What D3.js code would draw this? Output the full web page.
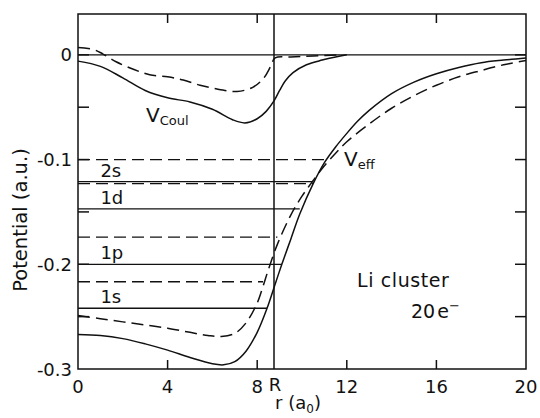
<!DOCTYPE html>
<html>
<head>
<meta charset="utf-8">
<script src="https://cdn.jsdelivr.net/npm/d3@7"></script>
<style>
  html, body { margin: 0; padding: 0; background: #fff; }
  svg { display: block; }
  text { font-family: "DejaVu Sans", sans-serif; fill: #111; }
</style>
</head>
<body>
<svg id="chart" width="540" height="418"></svg>
<script>
// ---- data ----
const rVeffSolid = [0, 1, 2, 3, 4, 5, 6, 6.5, 7, 7.5, 8, 8.44, 8.8, 9.1, 9.5, 9.9, 10.5, 11, 11.5, 12, 12.5, 13, 14, 15, 16, 17, 18, 19, 20];
const vVeffSolid = [-0.267, -0.268, -0.271, -0.276, -0.282, -0.289, -0.295, -0.296, -0.293, -0.283, -0.265, -0.242, -0.219, -0.2, -0.176, -0.152, -0.123, -0.103, -0.088, -0.075, -0.063, -0.053, -0.037, -0.026, -0.018, -0.012, -0.0075, -0.005, -0.003];

const rVeffDashed = [0, 1, 2, 3, 4, 5, 5.8, 6.4, 7, 7.5, 8, 8.26, 8.5, 8.9, 9.5, 10, 10.5, 11, 11.5, 12, 13, 14, 15, 16, 17, 18, 19, 20];
const vVeffDashed = [-0.249, -0.252, -0.255, -0.258, -0.261, -0.265, -0.268, -0.269, -0.266, -0.256, -0.237, -0.221, -0.205, -0.181, -0.153, -0.135, -0.12, -0.106, -0.094, -0.083, -0.066, -0.051, -0.039, -0.029, -0.021, -0.015, -0.0095, -0.0055];

const rCoulSolid = [0, 1, 2, 3, 4, 5, 6, 6.9, 7.45, 8, 8.4, 8.75, 9.0, 9.25, 9.6, 10.2, 10.9, 11.5, 12];
const vCoulSolid = [-0.006, -0.011, -0.022, -0.034, -0.041, -0.045, -0.052, -0.062, -0.065, -0.061, -0.054, -0.044, -0.034, -0.025, -0.017, -0.0095, -0.005, -0.002, 0];

const rCoulDashed = [0, 0.7, 1.1, 1.7, 2.5, 3.2, 4, 4.7, 5.45, 6.3, 7.1, 7.8, 8.3, 8.6, 8.8, 9.5, 10.5, 11.8];
const vCoulDashed = [0.007, 0.005, 0.001, -0.0066, -0.014, -0.019, -0.021, -0.024, -0.029, -0.033, -0.035, -0.031, -0.022, -0.011, -0.003, -0.002, -0.001, 0];

const levelSolid = [-0.121, -0.147, -0.2, -0.242];
const levelSolidEnd = [10.5, 9.9, 9.1, 8.44];
const levelSolidNames = ["2s", "1d", "1p", "1s"];
const levelDashed = [-0.1, -0.123, -0.174, -0.2167];
const levelDashedEnd = [11.0, 10.5, 8.9, 8.26];

const clusterRadius = 8.75;
const xTickValues = [0, 4, 8, 12, 16, 20];
const xTickLabels = ["0", "4", "8", "12", "16", "20"];
const yTickValues = [0, -0.1, -0.2, -0.3];
const yTickLabels = ["0", "-0.1", "-0.2", "-0.3"];
const yMinorTicks = [0.0, -0.05, -0.1, -0.15, -0.2, -0.25];

// ---- layout ----
const svg = d3.select("#chart");
const L = 78, R = 526, T = 14, B = 369;
const x = d3.scaleLinear().domain([0, 20]).range([L, R]);
const y = d3.scaleLinear().domain([-0.3, 0.039]).range([B, T]);
const ink = "#111";
const sw = 1.5;
const dash = "12,6";

const g = svg.append("g");

// zero line
g.append("line").attr("x1", x(0)).attr("x2", x(20)).attr("y1", y(0)).attr("y2", y(0))
  .attr("stroke", ink).attr("stroke-width", 1.2);

// R line
g.append("line").attr("x1", x(clusterRadius)).attr("x2", x(clusterRadius)).attr("y1", T).attr("y2", B)
  .attr("stroke", ink).attr("stroke-width", sw);

// level lines
levelSolid.forEach((v, i) => {
  g.append("line").attr("x1", x(0)).attr("x2", x(levelSolidEnd[i])).attr("y1", y(v)).attr("y2", y(v))
    .attr("stroke", ink).attr("stroke-width", 1.3);
  g.append("text").attr("x", x(1.0)).attr("y", y(v) - 5).attr("font-size", 18).text(levelSolidNames[i]);
});
levelDashed.forEach((v, i) => {
  g.append("line").attr("x1", x(0)).attr("x2", x(levelDashedEnd[i])).attr("y1", y(v)).attr("y2", y(v))
    .attr("stroke", ink).attr("stroke-width", 1.3).attr("stroke-dasharray", dash);
});

// curves
const line = d3.line().x(d => x(d[0])).y(d => y(d[1])).curve(d3.curveCatmullRom.alpha(0.5));
function drawCurve(rs, vs, dashed) {
  g.append("path").datum(rs.map((r, i) => [r, vs[i]]))
    .attr("d", line).attr("fill", "none").attr("stroke", ink).attr("stroke-width", sw)
    .attr("stroke-dasharray", dashed ? dash : null);
}
drawCurve(rVeffSolid, vVeffSolid, false);
drawCurve(rVeffDashed, vVeffDashed, true);
drawCurve(rCoulSolid, vCoulSolid, false);
drawCurve(rCoulDashed, vCoulDashed, true);

// frame
g.append("rect").attr("x", L).attr("y", T).attr("width", R - L).attr("height", B - T)
  .attr("fill", "none").attr("stroke", ink).attr("stroke-width", sw);

// ticks (inward)
const tl = 9;
xTickValues.slice(1, -1).forEach(v => {
  g.append("line").attr("x1", x(v)).attr("x2", x(v)).attr("y1", B).attr("y2", B - tl).attr("stroke", ink).attr("stroke-width", sw);
  g.append("line").attr("x1", x(v)).attr("x2", x(v)).attr("y1", T).attr("y2", T + tl).attr("stroke", ink).attr("stroke-width", sw);
});
yMinorTicks.forEach(v => {
  g.append("line").attr("x1", L).attr("x2", L + 11).attr("y1", y(v)).attr("y2", y(v)).attr("stroke", ink).attr("stroke-width", sw);
  g.append("line").attr("x1", R).attr("x2", R - 11).attr("y1", y(v)).attr("y2", y(v)).attr("stroke", ink).attr("stroke-width", sw);
});

// tick labels
xTickValues.forEach((v, i) => {
  g.append("text").attr("x", x(v)).attr("y", 393).attr("text-anchor", "middle").attr("font-size", 18).text(xTickLabels[i]);
});
g.append("text").attr("x", x(clusterRadius) + 1).attr("y", 391).attr("text-anchor", "middle").attr("font-size", 18).text("R");
yTickValues.forEach((v, i) => {
  g.append("text").attr("x", 72).attr("y", y(v) + 6.5).attr("text-anchor", "end").attr("font-size", 18).text(yTickLabels[i]);
});

// axis titles
const xt = g.append("text").attr("x", 298).attr("y", 409).attr("text-anchor", "middle").attr("font-size", 18);
xt.append("tspan").text("r (a");
xt.append("tspan").attr("font-size", 12).attr("dy", 4).text("0");
xt.append("tspan").attr("dy", -4).text(")");

g.append("text").attr("transform", "translate(27,220) rotate(-90)").attr("text-anchor", "middle")
  .attr("font-size", 19.5).text("Potential (a.u.)");

// annotations
const vc = g.append("text").attr("x", 146).attr("y", 122).attr("font-size", 20);
vc.append("tspan").text("V");
vc.append("tspan").attr("font-size", 13).attr("dy", 3).text("Coul");

const ve = g.append("text").attr("x", 344).attr("y", 166).attr("font-size", 20);
ve.append("tspan").text("V");
ve.append("tspan").attr("font-size", 13).attr("dy", 3).text("eff");

g.append("text").attr("x", 357).attr("y", 287).attr("font-size", 19).attr("letter-spacing", 0.6).text("Li cluster");
const ne = g.append("text").attr("x", 411).attr("y", 318).attr("font-size", 19);
ne.append("tspan").text("20");
ne.append("tspan").attr("dx", 2).text("e");
ne.append("tspan").attr("font-size", 13).attr("dy", -8).text("−");
</script>
</body>
</html>
